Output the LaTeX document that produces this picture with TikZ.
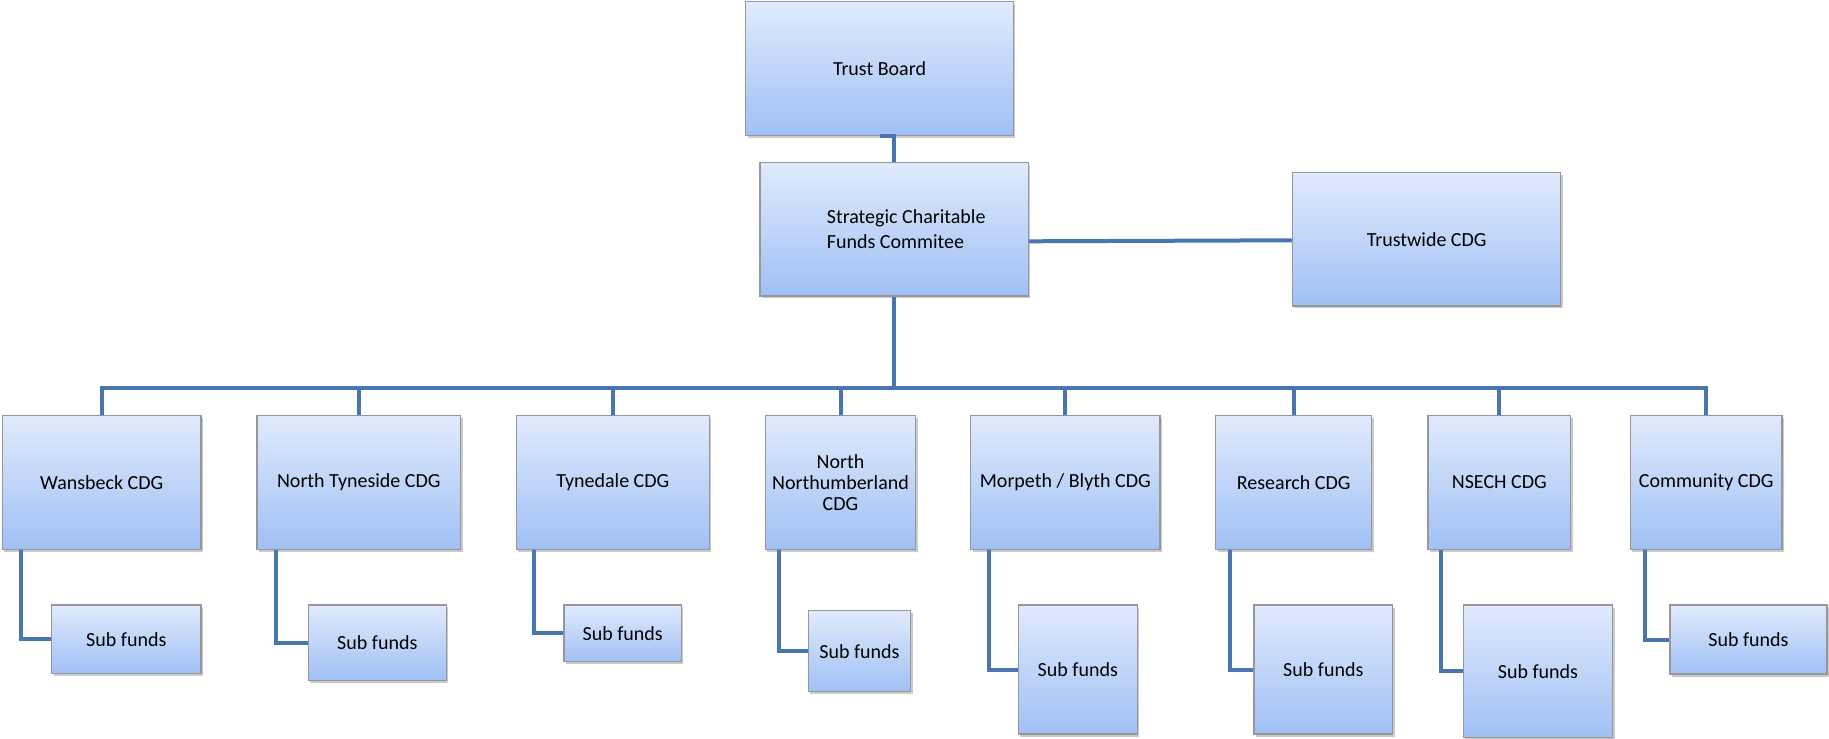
\documentclass[tikz,border=0pt]{standalone}
\usepackage{fontspec}
\setmainfont{Carlito}
\usetikzlibrary{shadows}
\definecolor{boxtop}{RGB}{224,234,252}
\definecolor{boxbot}{RGB}{160,192,245}
\definecolor{boxline}{RGB}{150,150,155}
\definecolor{conn}{RGB}{74,118,176}
\tikzset{
  box/.style={rectangle, draw=boxline, line width=1.4pt, top color=boxtop, bottom color=boxbot,
    drop shadow={shadow xshift=2pt, shadow yshift=-2.5pt, opacity=0.35, fill=black!60},
    font=\fontsize{20}{21}\selectfont, align=center, inner sep=2pt},
  link/.style={draw=conn, line width=4pt, line cap=butt, line join=miter},
}
\begin{document}
\begin{tikzpicture}[x=1pt,y=-1pt]
\useasboundingbox (0,0) rectangle (1829,739);
% top level
\node[box, minimum width=267.6, minimum height=133.6] (TB) at (879.5,68.5) {Trust Board};
\node[box, minimum width=268.3, minimum height=133.3, font=\fontsize{20}{25}\selectfont, align=left] (SC) at (894.2,229.3)
  {\hspace*{24pt}Strategic Charitable\\\hspace*{24pt}Funds Commitee};
\node[box, minimum width=268, minimum height=133.3] (TW) at (1426.7,239.3) {Trustwide CDG};
% CDG level
\node[box, minimum width=198.7, minimum height=133.6] (W) at (101.7,482.5) {Wansbeck CDG};
\node[box, minimum width=203.7, minimum height=133.6] (NT) at (358.8,482.5) {North Tyneside CDG};
\node[box, minimum width=193, minimum height=133.6] (TY) at (612.8,482.5) {Tynedale CDG};
\node[box, minimum width=150.4, minimum height=133.6] (NN) at (840.5,482.5) {North\\Northumberland\\CDG};
\node[box, minimum width=189.3, minimum height=133.6] (MB) at (1065.3,482.5) {Morpeth / Blyth CDG};
\node[box, minimum width=156, minimum height=133.6] (RE) at (1293.7,482.5) {Research CDG};
\node[box, minimum width=142.7, minimum height=133.6] (NS) at (1499.3,482.5) {NSECH CDG};
\node[box, minimum width=151.7, minimum height=133.6] (CO) at (1706.2,482.5) {Community CDG};
% sub funds
\node[box, minimum width=149.3, minimum height=68.3] (SW) at (126.3,639.2) {Sub funds};
\node[box, minimum width=138, minimum height=75.7] (SNT) at (377.3,642.8) {Sub funds};
\node[box, minimum width=117.3, minimum height=56.7] (STY) at (622.7,633.3) {Sub funds};
\node[box, minimum width=102.4, minimum height=81] (SNN) at (859.5,651.2) {Sub funds};
\node[box, minimum width=119, minimum height=129] (SMB) at (1077.8,669.5) {Sub funds};
\node[box, minimum width=138.7, minimum height=129] (SRE) at (1323.3,669.5) {Sub funds};
\node[box, minimum width=149.4, minimum height=132.3] (SNS) at (1538,671.2) {Sub funds};
\node[box, minimum width=157, minimum height=69] (SCO) at (1748.5,639.5) {Sub funds};
% bus coordinate
\coordinate (bus) at (894.2,388);
% connectors
\path[link] (TB.south) -| (SC.north);
\path[link] ([yshift=-12pt]SC.east) -- ([yshift=-1pt]TW.west);
\path[link] (SC.south) -- (bus);
\foreach \n in {W,NT,TY,NN,MB,RE,NS,CO}{
  \path[link] (\n.north) |- (bus);
}
\path[link] ([xshift=19.4pt]W.south west) |- (SW.west);
\path[link] ([xshift=19.7pt]NT.south west) |- (SNT.west);
\path[link] ([xshift=18.7pt]TY.south west) |- (STY.west);
\path[link] ([xshift=14.7pt]NN.south west) |- (SNN.west);
\path[link] ([xshift=18.6pt]MB.south west) |- (SMB.west);
\path[link] ([xshift=15.3pt]RE.south west) |- (SRE.west);
\path[link] ([xshift=13.7pt]NS.south west) |- (SNS.west);
\path[link] ([xshift=15.4pt]CO.south west) |- (SCO.west);
\end{tikzpicture}
\end{document}
